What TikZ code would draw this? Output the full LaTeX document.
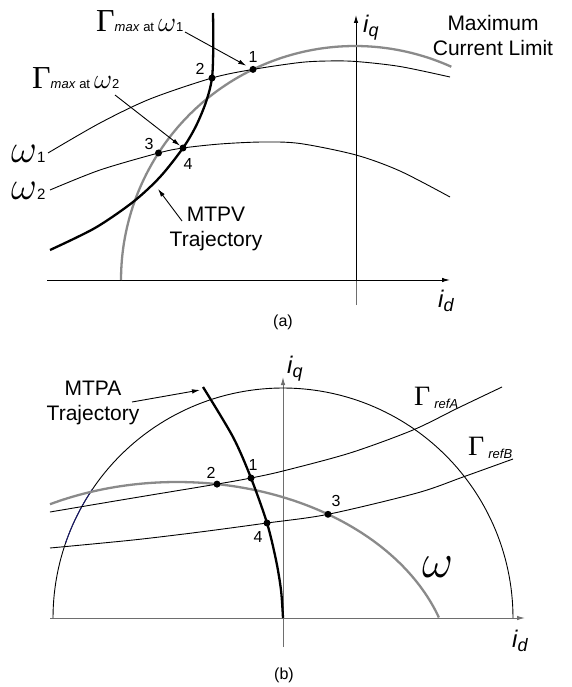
\RequirePackage{fix-cm}
\documentclass[tikz,border=0pt]{standalone}
\usepackage{fontspec}
\setmainfont{Liberation Sans}
\newfontfamily\serifgr{Liberation Serif}
\usetikzlibrary{arrows.meta}
\definecolor{curvegray}{HTML}{8A8A8A}
\definecolor{axisgray}{HTML}{6E6E6E}
\definecolor{navyseg}{HTML}{1A1A70}
\newcommand\fs[2]{\fontsize{#1}{#2}\selectfont}
\newcommand\GamL[1]{{\serifgr\fontsize{#1}{#1}\selectfont Γ}}
\newcommand\omL[1]{{\fontsize{#1}{#1}\selectfont$\omega$}}
\newcommand\cur[1]{{\fs{24}{24}\itshape i\raisebox{-4pt}{\fs{18}{18}#1}}}
\tikzset{
  thinc/.style={line width=0.9pt},
  grayc/.style={line width=2.3pt, draw=curvegray},
  thickc/.style={line width=2.3pt},
  dotn/.style={circle, fill=black, inner sep=0pt, minimum size=7pt},
  num/.style={font=\fs{16}{18}, inner sep=0pt},
  lbl/.style={font=\fs{21}{25}, align=center, inner sep=0pt},
  axisline/.style={line width=1pt, -{Latex[length=8pt,width=4.5pt]}},
  ptr/.style={line width=0.9pt, -{Latex[length=8pt,width=4.5pt]}},
  txt/.style={anchor=base west, inner sep=0pt},
}
\begin{document}
\begin{tikzpicture}[x=1pt,y=-1pt]
\useasboundingbox (0,0) rectangle (571,687);

% ================= panel (a) =================
\draw[line width=1pt, draw=axisgray] (356,305) -- (356,280);
\draw[axisline] (47,280) -- (450,280);
\draw[axisline] (356,280) -- (356,15);
\node[txt] (ida) at (438,307) {\cur{d}};
\node[txt] (iqa) at (363,33) {\cur{q}};

% maximum current limit circle
\draw[grayc] plot[domain=180:294.3,samples=90] ({355+234*cos(\x)},{280+234*sin(\x)});
% omega_1 voltage limit
\draw[thinc] plot[smooth] coordinates {(48,153) (100,123) (150,99) (212,78) (253,69.4) (300,62.5) (328,61) (356,61.5) (400,66.5) (450,77)};
% omega_2 voltage limit
\draw[thinc] plot[smooth] coordinates {(50,190) (100,170) (158.5,153) (183,148) (220,144) (262,142) (300,143.5) (356,155) (400,171) (450,197)};
% MTPV trajectory
\draw[thickc] plot[smooth] coordinates {(213,13) (213.3,45) (212,78) (206,102) (196,126) (183,148) (160,177) (133,202) (95,228) (50,250)};

\node[dotn] (a1) at (253,69.4) {};
\node[dotn] (a2) at (212,78) {};
\node[dotn] (a3) at (158.5,153) {};
\node[dotn] (a4) at (183,148) {};
\node[num] (la1) at (253,57) {1};
\node[num] (la2) at (200,69) {2};
\node[num] (la3) at (149,144) {3};
\node[num] (la4) at (188,164) {4};

\node[lbl] (mcl) at (493,35) {Maximum\\Current Limit};
\node[lbl] (mtpv) at (216,229) {MTPV\\Trajectory};
\node[txt] (w1) at (11,162) {\omL{40}\fs{15}{15}1};
\node[txt] (w2) at (11,199) {\omL{40}\fs{15}{15}2};
\node[txt] (gm1) at (96,32) {\GamL{32}\fs{13}{13}\textit{max} at\hspace{4pt}\omL{28}\fs{13}{13}1};
\node[txt] (gm2) at (32,89) {\GamL{32}\fs{13}{13}\textit{max} at\hspace{4pt}\omL{28}\fs{13}{13}2};
\node[num] (capa) at (283,322) {(a)};

\coordinate (g1s) at (185,32);
\coordinate (g2s) at (115,95);
\coordinate (mvs) at (182,221);
\coordinate (mvt) at (158,189);
\draw[ptr, shorten >=4pt] (g1s) -- (a1);
\draw[ptr] (g2s) -- (a4);
\draw[ptr] (mvs) -- (mvt);

% ================= panel (b) =================
\draw[axisline, draw=axisgray] (50,618) -- (525,618);
\draw[axisline, draw=axisgray] (283,647) -- (283,377);
\node[txt] (idb) at (512,647) {\cur{d}};
\node[txt] (iqb) at (287,373) {\cur{q}};

\draw[thinc] plot[domain=180:360,samples=120] ({283+230*cos(\x)},{618+230*sin(\x)});
\draw[line width=0.9pt, draw=navyseg] plot[domain=199:214,samples=20] ({283+230*cos(\x)},{618+230*sin(\x)});
\draw[grayc] plot[domain=242.6:341.6,samples=90] ({177+276*cos(\x)},{680+198*sin(\x)});
\draw[thinc] plot[smooth] coordinates {(50,512) (133,498) (217,484.1) (251,478) (283,471) (350,453) (413,430) (458,408) (502,387)};
\draw[thinc] plot[smooth] coordinates {(50,548) (133,540) (200,532) (267,523) (328,514.3) (417,493) (463,477) (513,459)};
\draw[thickc] plot[smooth] coordinates {(203,387) (233,437) (251,478) (267,523) (276,560) (281,590) (283,618)};

\node[dotn] (b1) at (251,478) {};
\node[dotn] (b2) at (217,484.1) {};
\node[dotn] (b3) at (328,514.3) {};
\node[dotn] (b4) at (267,523) {};
\node[num] (lb1) at (253,465) {1};
\node[num] (lb2) at (211,473) {2};
\node[num] (lb3) at (336,501) {3};
\node[num] (lb4) at (258,537) {4};

\node[lbl] (mtpa) at (93,403) {MTPA\\Trajectory};
\coordinate (mas) at (132,402);
\coordinate (mat) at (200,390);
\draw[ptr] (mas) -- (mat);
\node[txt] (gra) at (414,405) {\GamL{28}\hspace{4pt}\raisebox{-3pt}{\fs{13}{13}\textit{refA}}};
\node[txt] (grb) at (468,455) {\GamL{28}\hspace{4pt}\raisebox{-3pt}{\fs{13}{13}\textit{refB}}};
\node[txt] (wb) at (422,577) {\omL{48}};
\node[num] (capb) at (284,675) {(b)};
\end{tikzpicture}
\end{document}
